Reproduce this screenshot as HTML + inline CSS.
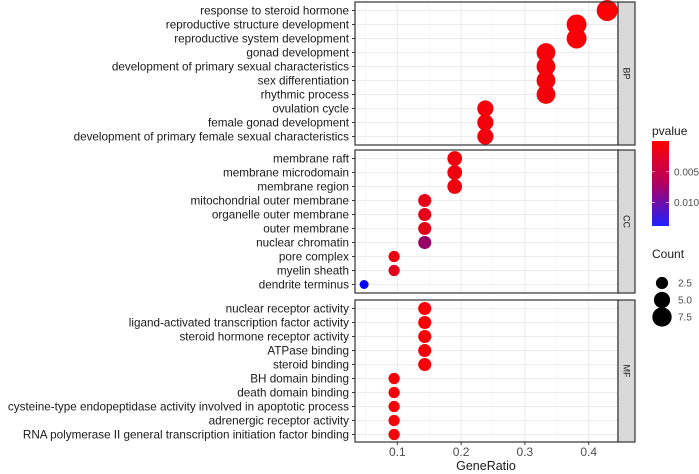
<!DOCTYPE html>
<html><head><meta charset="utf-8"><style>
html,body{margin:0;padding:0;background:#fff}
svg{display:block;font-family:"Liberation Sans",Arial,sans-serif}
</style></head><body>
<svg id="chart" width="699" height="474" viewBox="0 0 699 474">
<g id="plot"></g>
</svg>
<script>
const categories=["BP","CC","MF"];
const bpTerms=["response to steroid hormone","reproductive structure development","reproductive system development","gonad development","development of primary sexual characteristics","sex differentiation","rhythmic process","ovulation cycle","female gonad development","development of primary female sexual characteristics"];
const bpRatio=[0.429,0.381,0.381,0.333,0.333,0.333,0.333,0.238,0.238,0.238];
const bpCount=[9,8,8,7,7,7,7,5,5,5];
const bpP=[0.0002,0.0003,0.0003,0.0005,0.0005,0.0005,0.0006,0.0006,0.0006,0.0007];
const ccTerms=["membrane raft","membrane microdomain","membrane region","mitochondrial outer membrane","organelle outer membrane","outer membrane","nuclear chromatin","pore complex","myelin sheath","dendrite terminus"];
const ccRatio=[0.190,0.190,0.190,0.143,0.143,0.143,0.143,0.095,0.095,0.048];
const ccCount=[4,4,4,3,3,3,3,2,2,1];
const ccP=[0.0008,0.0008,0.0009,0.0012,0.0013,0.0014,0.0056,0.0010,0.0015,0.0135];
const mfTerms=["nuclear receptor activity","ligand-activated transcription factor activity","steroid hormone receptor activity","ATPase binding","steroid binding","BH domain binding","death domain binding","cysteine-type endopeptidase activity involved in apoptotic process","adrenergic receptor activity","RNA polymerase II general transcription initiation factor binding"];
const mfRatio=[0.143,0.143,0.143,0.143,0.143,0.095,0.095,0.095,0.095,0.095];
const mfCount=[3,3,3,3,3,2,2,2,2,2];
const mfP=[0.0003,0.0003,0.0003,0.0004,0.0005,0.0004,0.0004,0.0004,0.0004,0.0004];
const xTicks=[0.1,0.2,0.3,0.4];
const xTickLabels=["0.1","0.2","0.3","0.4"];
const pTicks=[0.005,0.010];
const pTickLabels=["0.005","0.010"];
const countTicks=[2.5,5.0,7.5];
const countTickLabels=["2.5","5.0","7.5"];

const NS="http://www.w3.org/2000/svg";
const g=document.getElementById('plot');
function mk(t,a,p){const e=document.createElementNS(NS,t);for(const k in a)e.setAttribute(k,a[k]);(p||g).appendChild(e);return e;}
const PL=355,PR=618,SR=635;
const xs=v=>333.5+(v)*638;
const panels=[[2,145],[150,293],[300,442]];
const rowY=(top,i)=>top+8.5+i*14;
const pMin=0.0,pMax=0.0138;
function pColor(p){let t=(p-pMin)/(pMax-pMin);t=Math.max(0,Math.min(1,t));
 const r=Math.round(255*(1-t)),b=Math.round(255*t);return `rgb(${r},0,${b})`;}
const rad=c=>Math.sqrt(9+11.25*c);
const sets=[[bpTerms,bpRatio,bpCount,bpP],[ccTerms,ccRatio,ccCount,ccP],[mfTerms,mfRatio,mfCount,mfP]];
sets.forEach((s,k)=>{
 const [top,bot]=panels[k];
 let bg=mk('rect',{x:PL,y:top,width:PR-PL,height:bot-top,fill:'#fff'});
 
 
 [0.05,0.15,0.25,0.35].forEach(v=>mk('line',{x1:xs(v),x2:xs(v),y1:top,y2:bot,stroke:'#f2f2f2','stroke-width':0.6}));
 xTicks.forEach(v=>mk('line',{x1:xs(v),x2:xs(v),y1:top,y2:bot,stroke:'#ebebeb','stroke-width':1.1}));
 s[0].forEach((t,i)=>{const y=rowY(top,i);
  mk('line',{x1:PL,x2:PR,y1:y,y2:y,stroke:'#ebebeb','stroke-width':1.1});
  mk('line',{x1:PL-3,x2:PL,y1:y,y2:y,stroke:'#333','stroke-width':1});
  const tx=mk('text',{x:PL-6,y:y+4,'text-anchor':'end','font-size':11.7,fill:'#1a1a1a'});tx.textContent=t;
  
  
 });
 s[0].forEach((t,i)=>{const y=rowY(top,i);
  const c=mk('circle',{cx:xs(s[1][i]),cy:y,r:rad(s[2][i]),fill:pColor(s[3][i])});
  
  
 });
 mk('rect',{x:PL,y:top,width:PR-PL,height:bot-top,fill:'none',stroke:'#333','stroke-width':1.2});
 const st=mk('rect',{x:PR,y:top,width:SR-PR,height:bot-top,fill:'#d9d9d9',stroke:'#333','stroke-width':1.2});
 
 
 const sl=mk('text',{x:0,y:0,'font-size':9,fill:'#1a1a1a','text-anchor':'middle',transform:`translate(${PR+(SR-PR)/2-3},${(top+bot)/2}) rotate(90)`});
 sl.textContent=categories[k];
 
 
});
xTicks.forEach((v,i)=>{
 mk('line',{x1:xs(v),x2:xs(v),y1:442,y2:445,stroke:'#333'});
 const t=mk('text',{x:xs(v),y:456,'text-anchor':'middle','font-size':12,fill:'#4d4d4d'});t.textContent=xTickLabels[i];
 
 
});
const xt=mk('text',{x:486,y:470,'text-anchor':'middle','font-size':12.5,fill:'#1a1a1a'});xt.textContent='GeneRatio';


const pt=mk('text',{x:652,y:135,'font-size':12,fill:'#1a1a1a'});pt.textContent='pvalue';


const defs=mk('defs',{});
const lg=mk('linearGradient',{id:'pg',x1:0,y1:0,x2:0,y2:1},defs);
mk('stop',{offset:0,'stop-color':'#ff0000'},lg);mk('stop',{offset:0.5,'stop-color':'#b00060'},lg);mk('stop',{offset:1,'stop-color':'#2020ff'},lg);
const cb=mk('rect',{x:652,y:141,width:17,height:85,fill:'url(#pg)'});


const py=p=>141+(p-pMin)/(pMax-pMin)*85;
pTicks.forEach((p,i)=>{const y=py(p);
 mk('line',{x1:652,x2:655,y1:y,y2:y,stroke:'#fff','stroke-width':0.6});
 mk('line',{x1:666,x2:669,y1:y,y2:y,stroke:'#fff','stroke-width':0.6});
 const t=mk('text',{x:674,y:y+3.5,'font-size':10,fill:'#4d4d4d'});t.textContent=pTickLabels[i];
 
 
});
const ct=mk('text',{x:652,y:258,'font-size':12,fill:'#1a1a1a'});ct.textContent='Count';


countTicks.forEach((c,i)=>{const y=283+i*17;
 const d=mk('circle',{cx:662,cy:y,r:rad(c),fill:'#000'});
 
 
 const t=mk('text',{x:678,y:y+3.5,'font-size':10,fill:'#4d4d4d'});t.textContent=countTickLabels[i];
 
 
});
</script>
</body></html>
